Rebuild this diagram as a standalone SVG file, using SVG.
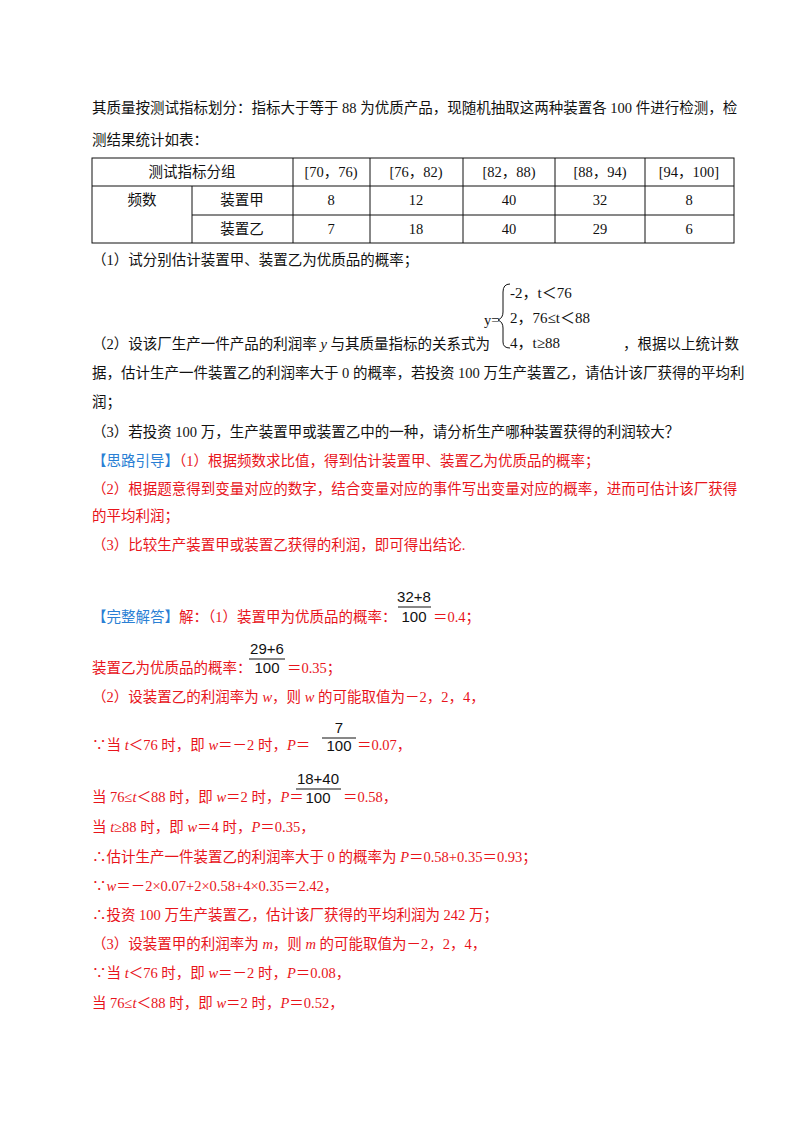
<svg xmlns="http://www.w3.org/2000/svg" width="800" height="1132" viewBox="0 0 800 1132">
<style>
text{font-family:"Liberation Serif","Noto Sans CJK SC",serif;font-size:14.5px;fill:#111}
.r{fill:#e8141b}
.b{fill:#2a7fd4}
.f{font-family:"Liberation Sans",sans-serif;font-size:15px;fill:#111}
.c{text-anchor:middle}
line{stroke:#111;stroke-width:1}
</style>
<rect width="800" height="1132" fill="#fff"/>
<text x="92" y="113">其质量按测试指标划分：指标大于等于 88 为优质产品，现随机抽取这两种装置各 100 件进行检测，检</text>
<text x="92" y="145">测结果统计如表：</text>
<g id="table">
<rect x="92" y="158" width="642" height="85" fill="none" stroke="#111"/>
<line x1="92" y1="186" x2="734" y2="186"/>
<line x1="192" y1="215" x2="734" y2="215"/>
<line x1="192" y1="186" x2="192" y2="243"/>
<line x1="293" y1="158" x2="293" y2="243"/>
<line x1="370" y1="158" x2="370" y2="243"/>
<line x1="463" y1="158" x2="463" y2="243"/>
<line x1="555" y1="158" x2="555" y2="243"/>
<line x1="645" y1="158" x2="645" y2="243"/>
<text class="c" x="192" y="177">测试指标分组</text>
<text class="c" x="331" y="177">[70，76)</text>
<text class="c" x="416" y="177">[76，82)</text>
<text class="c" x="509" y="177">[82，88)</text>
<text class="c" x="600" y="177">[88，94)</text>
<text class="c" x="689" y="177">[94，100]</text>
<text class="c" x="142" y="205">频数</text>
<text class="c" x="242" y="205">装置甲</text>
<text class="c" x="331" y="205">8</text>
<text class="c" x="416" y="205">12</text>
<text class="c" x="509" y="205">40</text>
<text class="c" x="600" y="205">32</text>
<text class="c" x="689" y="205">8</text>
<text class="c" x="242" y="234">装置乙</text>
<text class="c" x="331" y="234">7</text>
<text class="c" x="416" y="234">18</text>
<text class="c" x="509" y="234">40</text>
<text class="c" x="600" y="234">29</text>
<text class="c" x="689" y="234">6</text>
</g>
<text x="92" y="265">（1）试分别估计装置甲、装置乙为优质品的概率；</text>
<text x="484" y="325">y=</text>
<path d="M510 284 Q503 284 503 292 L503 312 Q503 318 498 320 Q503 322 503 328 L503 342 Q503 348 510 348" fill="none" stroke="#111"/>
<text x="510" y="298" style="font-size:15px">-2，t＜76</text>
<text x="510" y="323" style="font-size:15px">2，76≤t＜88</text>
<text x="510" y="348" style="font-size:15px">4，t≥88</text>
<text x="92" y="349">（2）设该厂生产一件产品的利润率 <tspan font-style="italic">y</tspan> 与其质量指标的关系式为</text>
<text x="623" y="349">，根据以上统计数</text>
<text x="92" y="378">据，估计生产一件装置乙的利润率大于 0 的概率，若投资 100 万生产装置乙，请估计该厂获得的平均利</text>
<text x="92" y="407">润；</text>
<text x="92" y="437">（3）若投资 100 万，生产装置甲或装置乙中的一种，请分析生产哪种装置获得的利润较大？</text>
<text x="92" y="466"><tspan class="b">【思路引导】</tspan><tspan class="r">（1）根据频数求比值，得到估计装置甲、装置乙为优质品的概率；</tspan></text>
<text class="r" x="92" y="494">（2）根据题意得到变量对应的数字，结合变量对应的事件写出变量对应的概率，进而可估计该厂获得</text>
<text class="r" x="92" y="521">的平均利润；</text>
<text class="r" x="92" y="550">（3）比较生产装置甲或装置乙获得的利润，即可得出结论.</text>
<text x="92" y="622"><tspan class="b">【完整解答】</tspan><tspan class="r">解：（1）装置甲为优质品的概率：</tspan></text>
<text class="f c" x="414" y="602">32+8</text><line x1="398" y1="607" x2="431" y2="607"/><text class="f c" x="414" y="622">100</text>
<text class="r" x="433" y="622">＝0.4；</text>
<text class="r" x="92" y="673">装置乙为优质品的概率：</text>
<text class="f c" x="267" y="654">29+6</text><line x1="249" y1="659" x2="285" y2="659"/><text class="f c" x="267" y="673">100</text>
<text class="r" x="287" y="673">＝0.35；</text>
<text class="r" x="92" y="702">（2）设装置乙的利润率为 <tspan font-style="italic">w</tspan>，则 <tspan font-style="italic">w</tspan> 的可能取值为－2，2，4，</text>
<text class="r" x="92" y="750">∵当 <tspan font-style="italic">t</tspan>＜76 时，即 <tspan font-style="italic">w</tspan>＝－2 时，<tspan font-style="italic">P</tspan>＝</text>
<text class="f c" x="339" y="733">7</text><line x1="322" y1="738" x2="356" y2="738"/><text class="f c" x="339" y="751">100</text>
<text class="r" x="357" y="750">＝0.07，</text>
<text class="r" x="92" y="802">当 76≤<tspan font-style="italic">t</tspan>＜88 时，即 <tspan font-style="italic">w</tspan>＝2 时，<tspan font-style="italic">P</tspan>＝</text>
<text class="f c" x="318" y="784">18+40</text><line x1="296" y1="789" x2="341" y2="789"/><text class="f c" x="318" y="803">100</text>
<text class="r" x="343" y="802">＝0.58，</text>
<text class="r" x="92" y="832">当 <tspan font-style="italic">t</tspan>≥88 时，即 <tspan font-style="italic">w</tspan>＝4 时，<tspan font-style="italic">P</tspan>＝0.35，</text>
<text class="r" x="92" y="862">∴估计生产一件装置乙的利润率大于 0 的概率为 <tspan font-style="italic">P</tspan>＝0.58+0.35＝0.93；</text>
<text class="r" x="92" y="891">∵<tspan font-style="italic">w</tspan>＝－2×0.07+2×0.58+4×0.35＝2.42，</text>
<text class="r" x="92" y="920">∴投资 100 万生产装置乙，估计该厂获得的平均利润为 242 万；</text>
<text class="r" x="92" y="949">（3）设装置甲的利润率为 <tspan font-style="italic">m</tspan>，则 <tspan font-style="italic">m</tspan> 的可能取值为－2，2，4，</text>
<text class="r" x="92" y="978">∵当 <tspan font-style="italic">t</tspan>＜76 时，即 <tspan font-style="italic">w</tspan>＝－2 时，<tspan font-style="italic">P</tspan>＝0.08，</text>
<text class="r" x="92" y="1008">当 76≤<tspan font-style="italic">t</tspan>＜88 时，即 <tspan font-style="italic">w</tspan>＝2 时，<tspan font-style="italic">P</tspan>＝0.52，</text>
</svg>
